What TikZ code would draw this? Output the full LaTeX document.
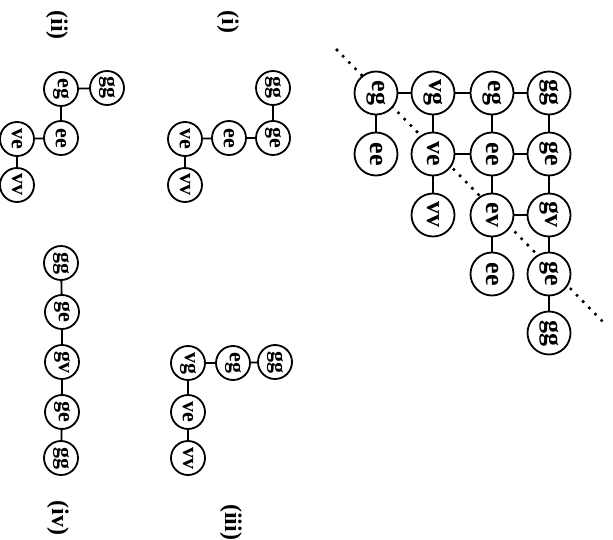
\documentclass[tikz,border=0pt]{standalone}
\usepackage{fontspec}
\setmainfont{Liberation Serif}
\begin{document}
\begin{tikzpicture}[x=1pt,y=-1pt,
  big/.style={circle,draw,line width=1.8pt,fill=white,minimum size=43pt,inner sep=0pt,rotate=-90,font=\fontsize{26}{26}\selectfont\bfseries},
  small/.style={circle,draw,line width=1.8pt,fill=white,minimum size=34pt,inner sep=0pt,rotate=-90,font=\fontsize{22}{22}\selectfont\bfseries},
  lab/.style={rotate=-90,inner sep=0pt,font=\fontsize{24}{24}\selectfont\bfseries},
  conn/.style={line width=1.8pt},
  dotline/.style={line width=3.6pt,line cap=round,dash pattern=on 0pt off 8.8pt}]
\useasboundingbox (0,0) rectangle (613,540);
% dotted diagonal
\coordinate (d1) at (337,50);
\coordinate (d2) at (607,326);
\draw[dotline] (d1) -- (d2);
% main grid
\node[big] (m11) at (376,93) {eg};
\node[big] (m12) at (376,154) {ee};
\node[big] (m21) at (433,93) {vg};
\node[big] (m22) at (433,154) {ve};
\node[big] (m23) at (433,215) {vv};
\node[big] (m31) at (492,93) {eg};
\node[big] (m32) at (492,154) {ee};
\node[big] (m33) at (492,215) {ev};
\node[big] (m34) at (492,274) {ee};
\node[big] (m41) at (549,93) {gg};
\node[big] (m42) at (549,154) {ge};
\node[big] (m43) at (549,215) {gv};
\node[big] (m44) at (549,274) {ge};
\node[big] (m45) at (549,333) {gg};
\draw[conn] (m11) -- (m21);
\draw[conn] (m21) -- (m31);
\draw[conn] (m31) -- (m41);
\draw[conn] (m22) -- (m32);
\draw[conn] (m32) -- (m42);
\draw[conn] (m33) -- (m43);
\draw[conn] (m11) -- (m12);
\draw[conn] (m21) -- (m22);
\draw[conn] (m22) -- (m23);
\draw[conn] (m31) -- (m32);
\draw[conn] (m32) -- (m33);
\draw[conn] (m33) -- (m34);
\draw[conn] (m41) -- (m42);
\draw[conn] (m42) -- (m43);
\draw[conn] (m43) -- (m44);
\draw[conn] (m44) -- (m45);
% (i)
\node[small] (a1) at (273,88) {gg};
\node[small] (a2) at (273,138) {ge};
\node[small] (a3) at (229,138) {ee};
\node[small] (a4) at (185,139) {ve};
\node[small] (a5) at (185,185) {vv};
\draw[conn] (a1) -- (a2);
\draw[conn] (a2) -- (a3);
\draw[conn] (a3) -- (a4);
\draw[conn] (a4) -- (a5);
\node[lab] (la) at (228,22) {(i)};
% (ii)
\node[small] (b1) at (107,88) {gg};
\node[small] (b2) at (61,89) {eg};
\node[small] (b3) at (61,138) {ee};
\node[small] (b4) at (17,139) {ve};
\node[small] (b5) at (17,185) {vv};
\draw[conn] (b1) -- (b2);
\draw[conn] (b2) -- (b3);
\draw[conn] (b3) -- (b4);
\draw[conn] (b4) -- (b5);
\node[lab] (lb) at (57,25) {(ii)};
% (iii)
\node[small] (c1) at (275,362) {gg};
\node[small] (c2) at (233,363) {eg};
\node[small] (c3) at (188,363) {vg};
\node[small] (c4) at (188,412) {ve};
\node[small] (c5) at (188,458) {vv};
\draw[conn] (c1) -- (c2);
\draw[conn] (c2) -- (c3);
\draw[conn] (c3) -- (c4);
\draw[conn] (c4) -- (c5);
\node[lab] (lc) at (231,522) {(iii)};
% (iv)
\node[small] (e1) at (61,263) {gg};
\node[small] (e2) at (62,312) {ge};
\node[small] (e3) at (62,362) {gv};
\node[small] (e4) at (62,412) {ge};
\node[small] (e5) at (61,458) {gg};
\draw[conn] (e1) -- (e2);
\draw[conn] (e2) -- (e3);
\draw[conn] (e3) -- (e4);
\draw[conn] (e4) -- (e5);
\node[lab] (ld) at (58,518) {(iv)};
\end{tikzpicture}
\end{document}
